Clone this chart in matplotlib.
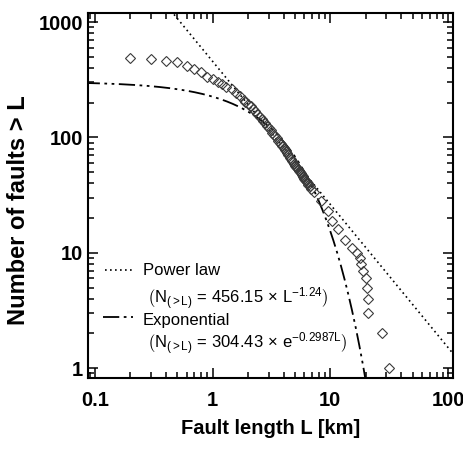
import numpy as np
import matplotlib
matplotlib.use("Agg")
import matplotlib.pyplot as plt
from matplotlib.lines import Line2D

plt.rcParams['font.family'] = ['Liberation Sans', 'DejaVu Sans']
plt.rcParams['mathtext.fontset'] = 'custom'
plt.rcParams['mathtext.rm'] = 'Liberation Sans'
plt.rcParams['mathtext.it'] = 'Liberation Sans:italic'

# cumulative fault counts
fault_length = [0.2, 0.3, 0.4, 0.5, 0.6, 0.7, 0.8, 0.9, 1.0, 1.1, 1.2, 1.3, 1.45, 1.58, 1.71, 1.84,
                1.9, 2.0, 2.1, 2.2, 2.3, 2.4, 2.5, 2.6, 2.7, 2.8, 2.9, 3.0, 3.1, 3.2, 3.3, 3.4,
                3.5, 3.6, 3.7, 3.8, 3.9, 4.0, 4.1, 4.2, 4.3, 4.4, 4.5, 4.6, 4.7, 4.8, 4.9, 5.0,
                5.1, 5.2, 5.3, 5.4, 5.5, 5.6, 5.7, 5.8, 5.9, 6.0, 6.1, 6.2, 6.3, 6.4, 6.5, 6.7,
                6.9, 7.2, 8.4, 9.6, 10.3, 11.7, 13.3, 15.2, 16.7, 17.8, 18.4, 18.8, 20.0, 20.6,
                20.7, 20.7, 27.3, 31.6]
n_faults = [485, 479, 463, 448, 419, 390, 367, 336, 319, 304, 289, 276, 261, 244, 229, 211,
            205, 195, 186, 178, 170, 160, 152, 145, 139, 133, 127, 120, 115, 110, 106, 102,
            98, 94, 90, 87, 84, 81, 78, 76, 73, 70, 67, 65, 63, 61, 59, 57,
            56, 54, 53, 51, 50, 49, 47, 46, 45, 44, 43, 42, 41, 40, 39, 38,
            36, 34, 28, 23, 19, 16, 13, 11, 10, 9, 8, 7, 6, 5,
            4, 3, 2, 1]

# fitted relations given in the legend
pow_a, pow_b = 456.15, -1.24
exp_a, exp_b = 304.43, -0.2987

L_fit = np.logspace(np.log10(0.08), np.log10(110), 400)
N_pow = pow_a * L_fit ** pow_b
N_exp = exp_a * np.exp(exp_b * L_fit)

dots = (0, (1, 2))
dashdot = (0, (9, 2.5, 1.5, 2.5, 1.5, 2.5))

fig = plt.figure(figsize=(4.64, 4.49), dpi=100)
ax = fig.add_axes([0.1886, 0.158, 0.7874, 0.813])

ax.plot(L_fit, N_pow, color='black', lw=1.2, linestyle=dots)
ax.plot(L_fit, N_exp, color='black', lw=1.3, linestyle=dashdot)
ax.plot(fault_length, n_faults, 'D', ms=5.5, mfc='none', mec='#3a3a3a', mew=0.8)

ax.set_xscale('log')
ax.set_yscale('log')
ax.set_xlim(0.0863, 110)
ax.set_ylim(0.82, 1200)

ax.set_xticks([0.1, 1, 10, 100], ['0.1', '1', '10', '100'])
ax.set_yticks([1, 10, 100, 1000], ['1', '10', '100', '1000'])
for lab in ax.get_xticklabels() + ax.get_yticklabels():
    lab.set_fontweight('bold')
    lab.set_fontsize(14.5)

ax.tick_params(which='both', direction='in', top=True, right=True, width=1.1)
ax.tick_params(which='major', length=7)
ax.tick_params(which='minor', length=4)
ax.tick_params(axis='x', which='major', pad=9)
ax.tick_params(axis='y', which='major', pad=3)
for s in ax.spines.values():
    s.set_linewidth(1.5)

ax.set_xlabel('Fault length L [km]', fontsize=14.5, fontweight='bold')
ax.set_ylabel('Number of faults > L', fontsize=17, fontweight='bold')
ax.xaxis.set_label_coords(0.5, -0.112)
ax.yaxis.set_label_coords(-0.157, 0.46)

# legend drawn by hand
tf = ax.transAxes
ax.add_line(Line2D([0.048, 0.121], [0.296, 0.296], transform=tf, color='black', lw=1.2, linestyle=dots))
ax.add_line(Line2D([0.043, 0.124], [0.167, 0.167], transform=tf, color='black', lw=1.3, linestyle=dashdot))
ax.text(0.151, 0.282, 'Power law', transform=tf, fontsize=12, va='baseline')
ax.text(0.162, 0.203, r'$\left(\mathrm{N_{(>L)}\,=\,456.15\,\times\,L^{-1.24}}\right)$', transform=tf,
        fontsize=12, va='baseline')
ax.text(0.151, 0.146, 'Exponential', transform=tf, fontsize=12, va='baseline')
ax.text(0.162, 0.080, r'$\left(\mathrm{N_{(>L)}\,=\,304.43\,\times\,e^{-0.2987L}}\right)$', transform=tf,
        fontsize=12, va='baseline')

fig.savefig('out.png', dpi=100)
